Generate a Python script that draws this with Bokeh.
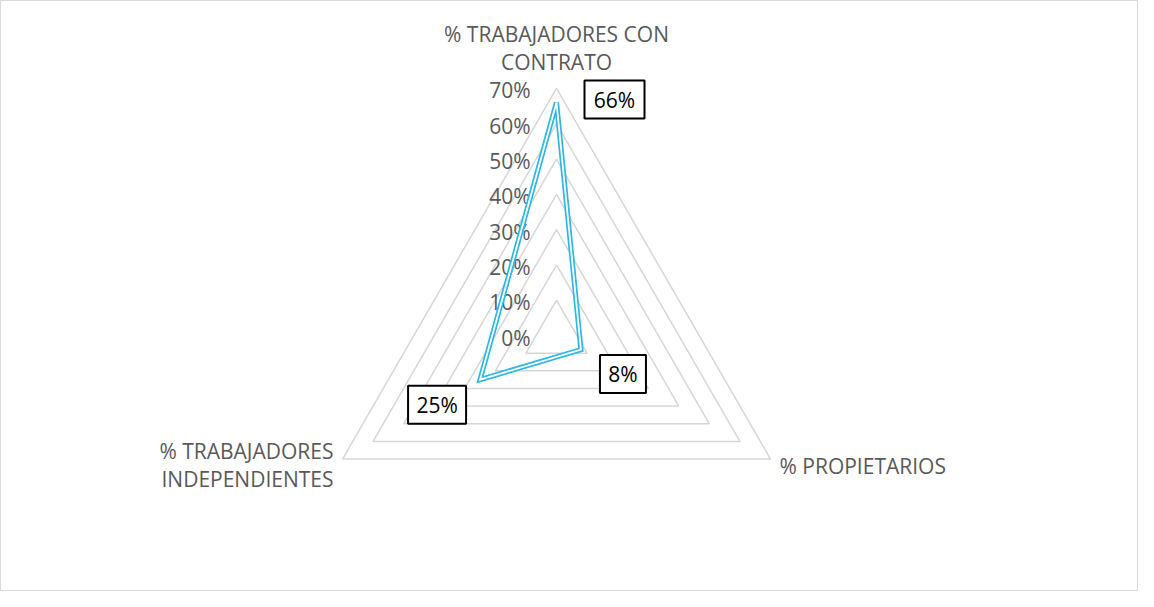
import numpy as np
from bokeh.plotting import figure
from bokeh.models import Range1d, ColumnDataSource
from bokeh.core.properties import value
from bokeh.embed import file_html
from bokeh.resources import INLINE

# ---------------- data ----------------
categories = ["% TRABAJADORES CON\nCONTRATO", "% PROPIETARIOS", "% TRABAJADORES\nINDEPENDIENTES"]
values = [0.66, 0.08, 0.25]
data_labels = ["66%", "8%", "25%"]
tick_values = [0.0, 0.1, 0.2, 0.3, 0.4, 0.5, 0.6, 0.7]
tick_labels = ["0%", "10%", "20%", "30%", "40%", "50%", "60%", "70%"]
max_value = 0.7

# ---------------- layout / style ----------------
W, H = 1138, 591
R = 353.0              # pixels per unit value
cx, cy = 556.0, 335.0  # centre of the radar in figure pixels
FONT = value("Open Sans")
TXT = "#595959"
GRID = "#D6D6D6"
LINE = "#2DB7E5"

p = figure(width=W, height=H, output_backend="svg", toolbar_location=None,
           x_range=Range1d(-cx / R, (W - cx) / R),
           y_range=Range1d(-(H - cy) / R, cy / R),
           min_border=0, min_border_left=0, min_border_right=0,
           min_border_top=0, min_border_bottom=0)
p.axis.visible = False
p.grid.visible = False
p.outline_line_color = "#D9D9D9"
p.outline_line_width = 1
p.background_fill_color = "white"
p.border_fill_color = "white"

n = len(categories)
theta = np.pi / 2 - np.arange(n) * 2 * np.pi / n
ux, uy = np.cos(theta), np.sin(theta)

# grid triangles
gx, gy = [], []
for t in tick_values[1:]:
    gx.append(list(t * ux) + [t * ux[0]])
    gy.append(list(t * uy) + [t * uy[0]])
p.multi_line(gx, gy, line_color=GRID, line_width=1.5)

# tick labels along the top spoke
p.text(x=[-26 / R] * len(tick_values), y=tick_values, text=tick_labels,
       text_align="right", text_baseline="middle", y_offset=2,
       text_font=FONT, text_font_size="21px", text_color=TXT)

# series: double line
vals = np.array(values)
sx = list(vals * ux) + [vals[0] * ux[0]]
sy = list(vals * uy) + [vals[0] * uy[0]]
p.line(sx, sy, line_color=LINE, line_width=5.2, line_join="miter")
p.line(sx, sy, line_color="white", line_width=1.8, line_join="miter")

# data labels in boxes
lab_dx = [58, 42, -43]
lab_dy = [3, -24.5, -25]
box_w = [60, 46, 58]
bx = vals * ux + np.array(lab_dx) / R
by = vals * uy + np.array(lab_dy) / R
src = ColumnDataSource(dict(x=bx, y=by, w=box_w, t=data_labels))
p.rect(x="x", y="y", width="w", height=38, width_units="screen", height_units="screen",
       source=src, fill_color="white", line_color="black", line_width=2)
p.text(x="x", y="y", text="t", source=src, text_align="center", text_baseline="middle",
       text_font=FONT, text_font_size="21px", text_color="black")

# category labels
ox = max_value * ux
oy = max_value * uy
cat_dx = [0, 9, -9]
cat_dy = [12, -7, -6]
aligns = ["center", "left", "right"]
baselines = ["bottom", "middle", "middle"]
for i in range(n):
    p.text(x=[ox[i] + cat_dx[i] / R], y=[oy[i] + cat_dy[i] / R], text=[categories[i]],
           text_align=aligns[i], text_baseline=baselines[i],
           text_font=FONT, text_font_size="21px", text_color=TXT,
           text_line_height=1.02)

open("out.html", "w").write(file_html(p, INLINE))
